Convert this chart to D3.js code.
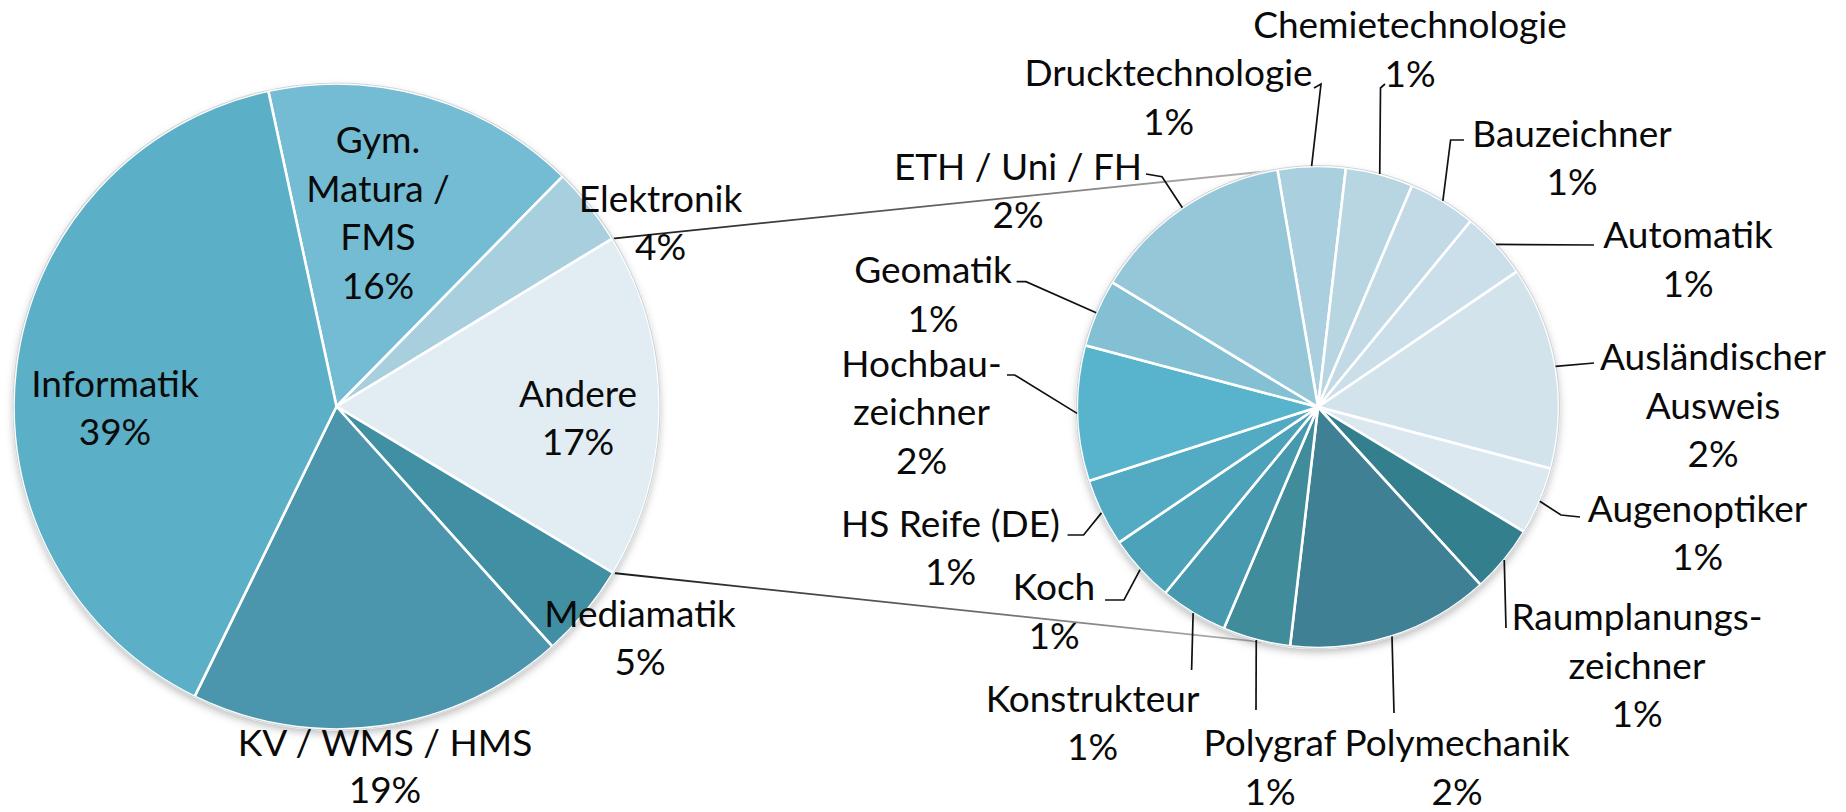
<!DOCTYPE html>
<html><head><meta charset="utf-8">
<script src="https://cdn.jsdelivr.net/npm/d3@7"></script>
<style>html,body{margin:0;padding:0;background:#fff;} svg{display:block}</style>
</head><body>
<svg id="chart" width="1846" height="812"></svg>
<script>
// ---- data (counts) ----
const mainCategories = ["Gym. Matura / FMS", "Elektronik", "Andere", "Mediamatik", "KV / WMS / HMS", "Informatik"];
const mainCounts = [20, 5, 22, 6, 24, 50];
const mainColors = ["#73BCD3", "#A7CFDD", "#E2ECF3", "#418FA3", "#4B96AC", "#5BAFC6"];

const otherCategories = ["Drucktechnologie", "Chemietechnologie", "Bauzeichner", "Automatik",
  "Ausländischer Ausweis", "Augenoptiker", "Raumplanungszeichner", "Polymechanik", "Polygraf",
  "Konstrukteur", "Koch", "HS Reife (DE)", "Hochbauzeichner", "Geomatik", "ETH / Uni / FH"];
const otherCounts = [1, 1, 1, 1, 3, 1, 1, 3, 1, 1, 1, 1, 2, 1, 3];
const otherColors = ["#AACFDE", "#B8D6E2", "#C1DAE5", "#CADFE9", "#D3E3EC", "#DCE8EF", "#347F8E",
  "#408094", "#408C9B", "#4699AE", "#4BA2B9", "#52ABC3", "#58B4CD", "#84C0D3", "#96C7D8"];

// ---- label layout ----
const mainLabelLines = [["Gym.", "Matura /", "FMS"], ["Elektronik"], ["Andere"], ["Mediamatik"], ["KV / WMS / HMS"], ["Informatik"]];
const mainLabelPos = [[378, 153], [660.5, 211.7], [578, 406.5], [640, 626.7], [385, 756], [115, 396.5]];
const mainLabelLH = [48.5, 48.5, 48.5, 48.5, 46.5, 48.5];

const otherLabelLines = [["Drucktechnologie"], ["Chemietechnologie"], ["Bauzeichner"], ["Automatik"],
  ["Ausländischer", "Ausweis"], ["Augenoptiker"], ["Raumplanungs-", "zeichner"], ["Polymechanik"], ["Polygraf"],
  ["Konstrukteur"], ["Koch"], ["HS Reife (DE)"], ["Hochbau-", "zeichner"], ["Geomatik"], ["ETH / Uni / FH"]];
const otherLabelPos = [[1168.5, 86], [1410, 38.3], [1572, 146.7], [1688, 248], [1713, 370], [1697.5, 521.7],
  [1637, 630], [1457, 756], [1270, 756], [1092.5, 711.7], [1054, 600], [950.5, 536.7], [921.5, 376.7],
  [933, 283.3], [1018, 179.5]];
const otherLeaders = [
  [[1321, 84], [1314, 88]],
  [[1380.5, 88], [1385, 84]],
  [[1450.6, 140], [1464, 140]],
  [[1594, 245]],
  [[1594, 363]],
  [[1561, 515], [1580, 517]],
  [[1506, 628]],
  [[1394, 713]],
  [[1256, 710]],
  [[1191.6, 670]],
  [[1124, 600], [1105, 600]],
  [[1083.6, 535], [1067.5, 535]],
  [[1014.7, 375], [1007, 375]],
  [[1026, 281.7], [1016.6, 281.7]],
  [[1162, 176.7], [1146, 174]]
];

const mainGeom = {cx: 336.5, cy: 406.5, r: 323, start: -12.2};
const otherGeom = {cx: 1318, cy: 407, r: 241, start: -9.7};
const lineH = 48.5;
const font = "Lato, 'Open Sans', sans-serif";
const fontSize = 37;

const total = d3.sum(mainCounts);
const pct = v => Math.round(v / total * 100) + "%";
const rad = d => d * Math.PI / 180;

const svg = d3.select("#chart");
const defs = svg.append("defs");
const f = defs.append("filter").attr("id", "shadow").attr("x", "-10%").attr("y", "-10%").attr("width", "120%").attr("height", "125%");
f.append("feDropShadow").attr("dx", 0).attr("dy", 4).attr("stdDeviation", 4).attr("flood-color", "#000").attr("flood-opacity", 0.28);

function makePie(values, g) {
  return d3.pie().sort(null).value(v => v)
    .startAngle(rad(g.start)).endAngle(rad(g.start) + 2 * Math.PI)(values);
}
const mainArcs = makePie(mainCounts, mainGeom);
const otherArcs = makePie(otherCounts, otherGeom);

function pt(g, a, r) { return [g.cx + r * Math.sin(a), g.cy - r * Math.cos(a)]; }

// ---- connector lines ----
const andere = mainArcs[mainCategories.indexOf("Andere")];
const conn = [
  [pt(mainGeom, andere.startAngle, mainGeom.r), pt(otherGeom, 0, otherGeom.r)],
  [pt(mainGeom, andere.endAngle, mainGeom.r), pt(otherGeom, Math.PI, otherGeom.r)]
];
conn.forEach((c, i) => {
  const gr = defs.append("linearGradient").attr("id", "cg" + i).attr("gradientUnits", "userSpaceOnUse")
    .attr("x1", c[0][0]).attr("y1", c[0][1]).attr("x2", c[1][0]).attr("y2", c[1][1]);
  gr.append("stop").attr("offset", 0).attr("stop-color", "#1a1a1a");
  gr.append("stop").attr("offset", 0.55).attr("stop-color", "#707070");
  gr.append("stop").attr("offset", 1).attr("stop-color", "#c4c4c4");
  svg.append("line").attr("x1", c[0][0]).attr("y1", c[0][1]).attr("x2", c[1][0]).attr("y2", c[1][1])
    .attr("stroke", `url(#cg${i})`).attr("stroke-width", 1.8);
});

function drawPie(arcs, colors, g) {
  const grp = svg.append("g").attr("transform", `translate(${g.cx},${g.cy})`);
  grp.append("circle").attr("r", g.r).attr("fill", "#fff").attr("filter", "url(#shadow)");
  const arc = d3.arc().innerRadius(0).outerRadius(g.r);
  grp.selectAll("path").data(arcs).join("path")
    .attr("d", arc).attr("fill", (d, i) => colors[i])
    .attr("stroke", "#fff").attr("stroke-width", 2.6).attr("stroke-linejoin", "round");
  grp.append("circle").attr("r", g.r + 0.5).attr("fill", "none").attr("stroke", "#cfd6da").attr("stroke-width", 1.2);
}
drawPie(mainArcs, mainColors, mainGeom);
drawPie(otherArcs, otherColors, otherGeom);

// ---- leader lines ----
otherArcs.forEach((d, i) => {
  const mid = (d.startAngle + d.endAngle) / 2;
  const p0 = pt(otherGeom, mid, otherGeom.r);
  const pts = [p0].concat(otherLeaders[i]);
  svg.append("path").attr("d", d3.line()(pts)).attr("fill", "none")
    .attr("stroke", "#111").attr("stroke-width", 1.7);
});

// ---- labels ----
function drawLabel(lines, pos, value, lh) {
  const t = svg.append("text").attr("x", pos[0]).attr("y", pos[1])
    .attr("text-anchor", "middle").attr("font-family", font).attr("font-size", fontSize).attr("fill", "#0a0a0a");
  lines.concat([pct(value)]).forEach((s, k) => {
    t.append("tspan").attr("x", pos[0]).attr("dy", k === 0 ? 0 : lh).text(s);
  });
}
mainCounts.forEach((v, i) => drawLabel(mainLabelLines[i], mainLabelPos[i], v, mainLabelLH[i]));
otherCounts.forEach((v, i) => drawLabel(otherLabelLines[i], otherLabelPos[i], v, lineH));
</script>
</body></html>
